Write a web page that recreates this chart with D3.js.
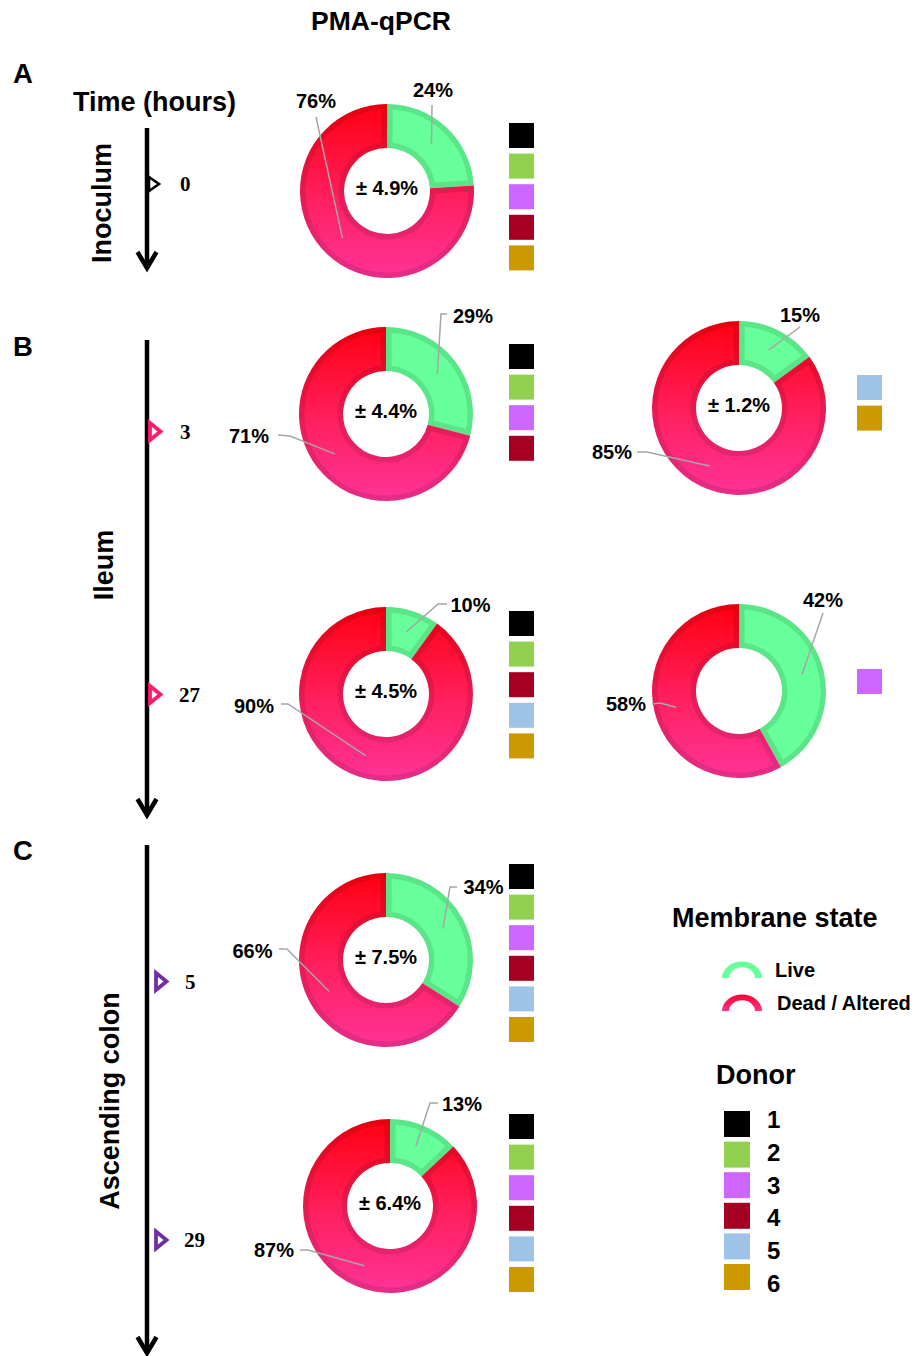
<!DOCTYPE html>
<html><head><meta charset="utf-8">
<script src="https://cdn.jsdelivr.net/npm/d3@7"></script>
<style>body{margin:0;background:#fff} svg{display:block}</style>
</head><body>
<svg id="c" width="914" height="1356"></svg>
<script>
// ---------- DATA ----------
const chartTitle = "PMA-qPCR";
const sections = ["Inoculum", "Ileum", "Ascending colon"];
const sectionLetters = ["A", "B", "C"];
const timePoints = [[0], [3, 27], [5, 29]];
const donutSection = [0, 1, 1, 1, 1, 2, 2];
const donutTime = [0, 3, 3, 27, 27, 5, 29];
const livePct = [24, 29, 15, 10, 42, 34, 13];
const deadPct = [76, 71, 85, 90, 58, 66, 87];
const sdLabels = ["± 4.9%", "± 4.4%", "± 1.2%", "± 4.5%", "", "± 7.5%", "± 6.4%"];
const donorSets = [[1,2,3,4,6], [1,2,3,4], [5,6], [1,2,4,5,6], [3], [1,2,3,4,5,6], [1,2,3,4,5,6]];
const donors = [1, 2, 3, 4, 5, 6];
const donorColors = ["#000000", "#92d050", "#cc66ff", "#a50021", "#9dc3e6", "#cc9900"];
const stateLabels = ["Live", "Dead / Altered"];
const markerColors = ["#000000", "#ff1a6e", "#7030a0"];

// ---------- LAYOUT ----------
const centers = [[387,191],[386,414],[739,408],[386,694],[739,691],[386,960],[390,1206]];
const squareX = [509,509,857,509,857,509,509];
const squareTop = [123,344,375,611,669,864,1114];
const sqSize = 25, sqStep = 30.6;
// label offsets [textDx, textDy, [via points]] for live, dead
const labelLayout = [
  [[46,-101,[[45,-86]]], [-71,-90,[[-71,-74]]]],
  [[87,-98,[[61,-100],[55,-100]]], [-137,22,[[-108,21],[-96,22]]]],
  [[61,-93.5,[[61,-81]]], [-127,44,[[-102,44],[-92,44]]]],
  [[84.5,-89.5,[[61,-90],[52,-90]]], [-132,12,[[-105,10],[-98,10]]]],
  [[84,-91,[[84,-78]]], [-113,13,[[-87,13],[-79,12]]]],
  [[97.5,-73,[[71,-73],[64,-73]]], [-133.5,-9,[[-107,-11],[-99,-11]]]],
  [[72,-102,[[48,-103],[40,-103]]], [-116,44,[[-90,44],[-82,44]]]]
];
const axisX = 147;
const arrowExtents = [[128,270],[340,817],[845,1355]];
const markerRanges = [[184,184],[431.5,694.5],[981.5,1240]];
const markerLeft = [149, 150, 156];
const timeTextX = [180, 179, 184];
const sectionLabelPos = [[111,203],[113,565],[118.5,1101]];
const letterY = [83, 356, 860];

const svg = d3.select("#c");
const defs = svg.append("defs");
const g1 = defs.append("linearGradient").attr("id","deadGrad").attr("x1",0).attr("y1",0).attr("x2",0).attr("y2",1);
g1.append("stop").attr("offset",0).attr("stop-color","#ff0010");
g1.append("stop").attr("offset",0.55).attr("stop-color","#ff2060");
g1.append("stop").attr("offset",1).attr("stop-color","#ff3399");
const g2 = defs.append("linearGradient").attr("id","deadIcon").attr("x1",0).attr("y1",0).attr("x2",0).attr("y2",1);
g2.append("stop").attr("offset",0).attr("stop-color","#ff0030");
g2.append("stop").attr("offset",1).attr("stop-color","#ff3388");

const sans = "'Liberation Sans', Arial, sans-serif";
const serif = "'Liberation Serif', 'Times New Roman', serif";

// Title
svg.append("text").attr("x",381).attr("y",30).attr("text-anchor","middle")
  .style("font-family",sans).style("font-weight","bold").style("font-size","26.5px").text(chartTitle);
svg.append("text").attr("x",73).attr("y",111)
  .style("font-family",sans).style("font-weight","bold").style("font-size","27px").text("Time (hours)");

// Section letters & labels & arrows
sections.forEach((s,i)=>{
  svg.append("text").attr("x",13).attr("y",letterY[i])
    .style("font-family",sans).style("font-weight","bold").style("font-size","27.5px").text(sectionLetters[i]);
  const [lx,ly] = sectionLabelPos[i];
  svg.append("text").attr("transform",`translate(${lx},${ly}) rotate(-90)`).attr("text-anchor","middle")
    .style("font-family",sans).style("font-weight","bold").style("font-size","27px").text(s);
  const [y0,y1] = arrowExtents[i];
  svg.append("line").attr("x1",axisX).attr("x2",axisX).attr("y1",y0).attr("y2",y1-2)
    .attr("stroke","#000").attr("stroke-width",4.5);
  svg.append("path").attr("d",`M${axisX-9.5},${y1-18} L${axisX},${y1-2} L${axisX+9.5},${y1-18}`)
    .attr("fill","none").attr("stroke","#000").attr("stroke-width",4.5).attr("stroke-linejoin","miter");
  const tp = timePoints[i];
  const ys = d3.scaleLinear().domain(d3.extent(tp)).range(markerRanges[i]);
  tp.forEach(t=>{
    const y = ys(t), xl = markerLeft[i];
    const small = i===0;
    const h = small?7:8.5, w = small?10:10.5;
    svg.append("path").attr("d",`M${xl},${y-h} L${xl+w},${y} L${xl},${y+h} Z`)
      .attr("fill","#fff").attr("stroke",markerColors[i]).attr("stroke-width",small?2.6:3.8);
    svg.append("text").attr("x",timeTextX[i] + (String(t).length===1 && i>0 ? 1 : 0)).attr("y",y+7)
      .style("font-family",serif).style("font-weight","bold").style("font-size","21px").text(t);
  });
});

// Donuts
const pie = d3.pie().sort(null).value(d=>d);
const arc = d3.arc().innerRadius(43).outerRadius(87);
livePct.forEach((lv,k)=>{
  const [cx,cy] = centers[k];
  const g = svg.append("g").attr("transform",`translate(${cx},${cy})`);
  const slices = pie([lv, deadPct[k]]);
  slices.forEach((s,j)=>{
    const id = `clip${k}_${j}`;
    const d = arc(s);
    defs.append("clipPath").attr("id",id).append("path").attr("d",d);
    const fill = j===0 ? "#66ff99" : "url(#deadGrad)";
    g.append("path").attr("d",d).attr("fill",fill);
    g.append("path").attr("d",d)
      .attr("fill","none").attr("stroke","rgba(0,0,0,0.1)").attr("stroke-width",11)
      .attr("clip-path",`url(#${id})`);
  });
  // center text
  if (sdLabels[k]) {
    g.append("text").attr("x",0).attr("y",4).attr("text-anchor","middle")
      .style("font-family",sans).style("font-weight","bold").style("font-size","20px").text(sdLabels[k]);
  }
  // labels
  slices.forEach((s,j)=>{
    const [tx,ty,via] = labelLayout[k][j];
    const c = arc.centroid(s);
    const pts = via.concat([c]);
    g.append("path").attr("d", d3.line()(pts)).attr("fill","none")
      .attr("stroke","#a6a6a6").attr("stroke-width",1.5);
    g.append("text").attr("x",tx).attr("y",ty+7).attr("text-anchor","middle")
      .style("font-family",sans).style("font-weight","bold").style("font-size","20px")
      .text((j===0?lv:deadPct[k]) + "%");
  });
  // donor squares
  donorSets[k].forEach((dn,i)=>{
    svg.append("rect").attr("x",squareX[k]).attr("y",squareTop[k]+i*sqStep)
      .attr("width",sqSize).attr("height",sqSize).attr("fill",donorColors[donors.indexOf(dn)]);
  });
});

// Legend
svg.append("text").attr("x",672).attr("y",927)
  .style("font-family",sans).style("font-weight","bold").style("font-size","27px").text("Membrane state");
const iconArc = d3.arc().innerRadius(13).outerRadius(20).startAngle(-Math.PI/2).endAngle(Math.PI/2);
const iconFills = ["#66ff99","url(#deadIcon)"];
const iconY = [978, 1011];
stateLabels.forEach((lab,i)=>{
  svg.append("path").attr("d",iconArc()).attr("fill",iconFills[i])
    .attr("transform",`translate(742,${iconY[i]}) scale(1,0.82)`);
  svg.append("text").attr("x",i===0?775:777).attr("y",iconY[i]-1)
    .style("font-family",sans).style("font-weight","bold").style("font-size","20px").text(lab);
});
svg.append("text").attr("x",716).attr("y",1084)
  .style("font-family",sans).style("font-weight","bold").style("font-size","27px").text("Donor");
donors.forEach((dn,i)=>{
  svg.append("rect").attr("x",724).attr("y",1111+i*30.6).attr("width",26).attr("height",26)
    .attr("fill",donorColors[i]);
  svg.append("text").attr("x",767).attr("y",1128+i*32.8)
    .style("font-family",sans).style("font-weight","bold").style("font-size","24px").text(dn);
});
</script>
</body></html>
